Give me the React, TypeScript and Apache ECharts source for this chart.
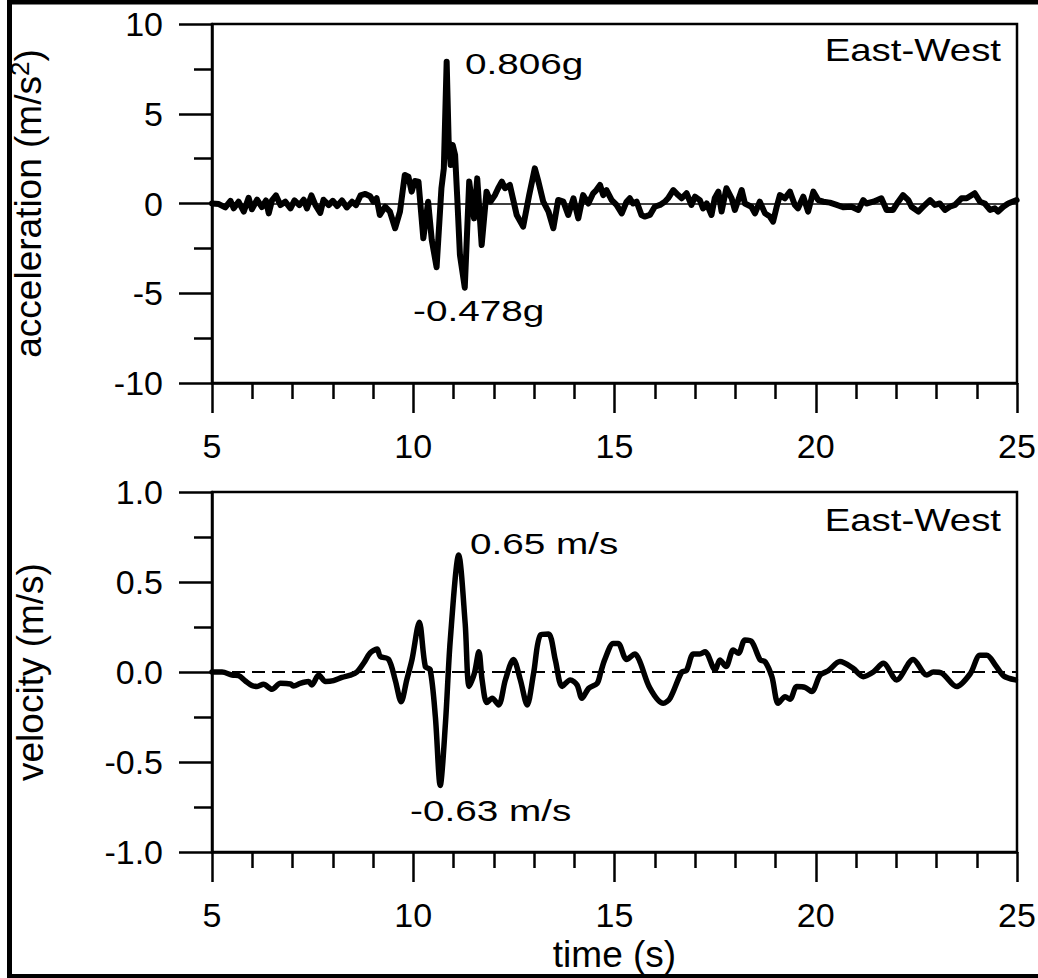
import React, { useEffect, useRef } from 'react';
import * as echarts from 'echarts';

// ---- data ----
const timeTickLabels = [5, 10, 15, 20, 25];

const accTime = [
  5.0, 5.17, 5.33, 5.46, 5.54, 5.66, 5.79, 5.91, 5.99, 6.12, 6.24, 6.34, 6.41, 6.49, 6.59, 6.7, 6.82, 6.95,
  7.05, 7.17, 7.28, 7.36, 7.47, 7.57, 7.69, 7.77, 7.9, 8.0, 8.11, 8.23, 8.35, 8.48, 8.58, 8.69, 8.81, 8.93,
  9.01, 9.09, 9.17, 9.3, 9.42, 9.55, 9.67, 9.79, 9.88, 9.96, 10.04, 10.13, 10.25, 10.37, 10.46, 10.58,
  10.7, 10.76, 10.83, 10.88, 10.93, 10.98, 11.04, 11.09, 11.16, 11.28, 11.39, 11.51, 11.59, 11.7, 11.82,
  11.92, 12.03, 12.11, 12.2, 12.28, 12.4, 12.57, 12.73, 12.88, 13.02, 13.11, 13.23, 13.36, 13.48, 13.6,
  13.73, 13.85, 13.98, 14.1, 14.22, 14.35, 14.47, 14.55, 14.64, 14.72, 14.8, 14.93, 15.05, 15.18, 15.3,
  15.38, 15.46, 15.55, 15.67, 15.75, 15.88, 16.0, 16.13, 16.25, 16.33, 16.46, 16.58, 16.67, 16.79, 16.91,
  17.0, 17.12, 17.2, 17.29, 17.41, 17.49, 17.58, 17.66, 17.78, 17.91, 17.99, 18.16, 18.24, 18.4, 18.49,
  18.61, 18.74, 18.86, 18.94, 19.03, 19.11, 19.23, 19.36, 19.48, 19.56, 19.69, 19.81, 19.94, 20.06, 20.19,
  20.35, 20.52, 20.68, 20.89, 21.06, 21.18, 21.26, 21.43, 21.63, 21.76, 21.92, 22.05, 22.17, 22.3, 22.38,
  22.55, 22.67, 22.84, 22.96, 23.08, 23.21, 23.33, 23.46, 23.62, 23.75, 23.95, 24.08, 24.2, 24.33, 24.45,
  24.53, 24.66, 24.78, 24.99,
];
const accValues = [
  0, -0.03, -0.22, 0.15, -0.27, 0.1, -0.45, 0.32, -0.32, 0.21, -0.2, 0.17, -0.55, 0.17, 0.45, -0.09, 0.1, -0.27,
  0.17, -0.09, 0.21, -0.27, 0.45, -0.09, -0.52, 0.21, -0.09, 0.15, -0.14, 0.17, -0.22, 0.1, -0.09, 0.45, 0.53, 0.4,
  0.1, 0.29, -0.64, -0.18, -0.45, -1.38, -0.45, 1.59, 1.49, 0.66, 1.25, 1.22, -1.94, 0.1, -2.03, -3.55,
  0.85, 1.96, 7.9, 3.44, 2.14, 3.26, 2.7, 0.47, -2.87, -4.69, 1.22, -0.83, 1.4, -2.31, 0.66,
  0.1, 0.47, 0.85, 1.22, 0.85, 1.03, -0.64, -1.29, 0.47, 1.96, 1.22, 0.1, -0.45, -1.38, 0.2,
  0.1, -0.64, 0.29, -0.83, 0.47, 0.0, 0.57, 0.75, 1.03, 0.47, 0.75, 0.19, -0.08, -0.55, 0.1,
  0.29, 0, 0.1, -0.64, -0.73, -0.64, -0.18, -0.08, 0.1, 0.29, 0.75, 0.47, 0.29, 0.57, -0.08,
  0.38, 0.19, -0.27, 0, -0.64, 0.29, 0.66, -0.45, 0.85, 0.29, -0.36, 0.75, 0, -0.18, -0.55,
  0.1, -0.55, -0.73, -1.01, -0.18, 0.47, 0.29, 0.66, -0.08, -0.27, 0.38, -0.45, 0.66, 0.19, 0.1,
  0.05, -0.08, -0.21, -0.18, -0.36, 0.19, 0, 0.1, 0.29, -0.36, -0.36, 0.1, 0.47, 0.19, -0.18,
  -0.45, -0.18, 0.19, -0.08, 0, -0.36, -0.18, -0.08, 0.29, 0.29, 0.57, 0.1, 0, -0.36, -0.27,
  -0.45, -0.18, 0, 0.19,
];

const velTime = [
  5.0, 5.25, 5.5, 5.66, 5.83, 5.99, 6.12, 6.28, 6.49, 6.7, 6.95, 7.03, 7.19, 7.4, 7.48, 7.65, 7.82, 8.02,
  8.23, 8.44, 8.6, 8.77, 8.93, 9.1, 9.18, 9.39, 9.55, 9.7, 9.84, 9.97, 10.15, 10.3, 10.42, 10.55, 10.67,
  10.8, 10.92, 11.13, 11.29, 11.39, 11.52, 11.63, 11.71, 11.83, 11.96, 12.12, 12.29, 12.49, 12.66, 12.83,
  12.99, 13.16, 13.36, 13.53, 13.7, 13.9, 14.07, 14.19, 14.36, 14.57, 14.66, 14.76, 14.97, 15.09, 15.3,
  15.51, 15.63, 15.88, 16.21, 16.38, 16.67, 16.79, 16.96, 17.12, 17.25, 17.5, 17.62, 17.77, 17.95, 18.08,
  18.24, 18.41, 18.62, 18.74, 18.91, 19.07, 19.24, 19.36, 19.53, 19.73, 19.9, 20.11, 20.31, 20.6, 20.93,
  21.18, 21.43, 21.68, 22.01, 22.42, 22.76, 22.92, 23.13, 23.5, 23.84, 24.08, 24.25, 24.46, 24.67, 24.96,
];
const velValues = [
  0, 0, -0.017, -0.02, -0.05, -0.075, -0.08, -0.068, -0.096, -0.063, -0.067, -0.078, -0.063, -0.053, -0.072, -0.017, -0.053, -0.048,
  -0.03, -0.017, 0, 0.05, 0.106, 0.128, 0.087, 0.07, -0.043, -0.165, -0.043, 0.07, 0.277, 0.03, 0.013, -0.25, -0.63,
  -0.285, 0.178, 0.65, 0.27, -0.08, -0.007, 0.113, -0.043, -0.17, -0.146, -0.183, -0.043, 0.07, -0.043, -0.183,
  -0.007, 0.206, 0.211, 0.067, -0.08, -0.044, -0.072, -0.146, -0.09, -0.063, 0.0, 0.07, 0.159, 0.159, 0.07,
  0.1, 0.058, -0.09, -0.174, -0.146, 0, 0.009, 0.1, 0.1, 0.113, 0.011, 0.067, 0.03, 0.122, 0.104,
  0.178, 0.169, 0.067, 0.058, -0.026, -0.174, -0.137, -0.152, -0.081, -0.085, -0.109, -0.017, 0.007, 0.058, 0.02,
  -0.026, 0, 0.048, -0.044, 0.07, -0.017, 0, -0.006, -0.081, -0.009, 0.093, 0.093, 0.039, -0.022, -0.044,
];

const panelTitles = ['East-West', 'East-West'];
const accPeakLabels = ['0.806g', '-0.478g'];
const velPeakLabels = ['0.65 m/s', '-0.63 m/s'];

const FONT = "'Liberation Sans', Arial, Helvetica, sans-serif";
const BLACK = '#000';

function xAxis(gridIndex: number, name: string) {
  return {
    type: 'value',
    gridIndex,
    min: timeTickLabels[0],
    max: timeTickLabels[timeTickLabels.length - 1],
    interval: 5,
    axisLine: { show: true, onZero: false, lineStyle: { color: BLACK, width: 2.5 } },
    axisTick: { show: true, length: 30, lineStyle: { color: BLACK, width: 2.5 } },
    minorTick: { show: true, splitNumber: 5, length: 16, lineStyle: { color: BLACK, width: 2.5 } },
    splitLine: { show: false },
    minorSplitLine: { show: false },
    axisLabel: { color: BLACK, fontSize: 34, fontFamily: FONT, margin: 46, showMinLabel: true, showMaxLabel: true },
    name,
    nameLocation: 'middle',
    nameGap: 84,
    nameTextStyle: { color: BLACK, fontSize: 37, fontFamily: FONT },
  };
}

function yAxis(gridIndex: number, min: number, max: number, interval: number, decimals: number, name: string, rich?: any) {
  return {
    type: 'value',
    gridIndex,
    min,
    max,
    interval,
    axisLine: { show: true, onZero: false, lineStyle: { color: BLACK, width: 2.5 } },
    axisTick: { show: true, length: 33, lineStyle: { color: BLACK, width: 2.5 } },
    minorTick: { show: true, splitNumber: 2, length: 18, lineStyle: { color: BLACK, width: 2.5 } },
    splitLine: { show: false },
    minorSplitLine: { show: false },
    axisLabel: {
      color: BLACK,
      fontSize: 34,
      fontFamily: FONT,
      margin: 49,
      showMinLabel: true,
      showMaxLabel: true,
      formatter: (v: number) => v.toFixed(decimals),
    },
    name,
    nameLocation: 'middle',
    nameGap: 163,
    nameTextStyle: { color: BLACK, fontSize: 37, fontFamily: FONT, rich },
  };
}

function label(text: string, x: number, y: number, align: string, fontSize: number, scaleX: number) {
  return {
    type: 'text',
    x,
    y,
    scaleX,
    z: 50,
    style: {
      text,
      fill: BLACK,
      fontSize,
      fontFamily: FONT,
      textAlign: align,
      align,
      textVerticalAlign: 'middle',
      verticalAlign: 'middle',
    },
  };
}

export default function App() {
  const ref = useRef<HTMLDivElement>(null);

  useEffect(() => {
    if (!ref.current) return;
    const chart = echarts.init(ref.current, null, { renderer: 'svg' });
    const accData = accTime.map((t, i) => [t, accValues[i]]);
    const velData = velTime.map((t, i) => [t, velValues[i]]);

    const option: any = {
      animation: false,
      backgroundColor: '#fff',
      grid: [
        { left: 212, top: 24, width: 805, height: 359, show: true, borderColor: BLACK, borderWidth: 2.5, backgroundColor: 'transparent', containLabel: false, outerBoundsMode: 'none' },
        { left: 212, top: 492, width: 805, height: 360, show: true, borderColor: BLACK, borderWidth: 2.5, backgroundColor: 'transparent', containLabel: false, outerBoundsMode: 'none' },
      ],
      xAxis: [xAxis(0, ''), xAxis(1, 'time (s)')],
      yAxis: [
        yAxis(0, -10, 10, 5, 0, '{a|acceleration (m/s}{b|2}{a|)}', {
          a: { fontSize: 37, fontFamily: FONT, color: BLACK },
          b: { fontSize: 26, fontFamily: FONT, color: BLACK, verticalAlign: 'top', padding: [0, 0, 16, 0] },
        }),
        yAxis(1, -1, 1, 0.5, 1, 'velocity (m/s)'),
      ],
      series: [
        {
          type: 'line',
          xAxisIndex: 0,
          yAxisIndex: 0,
          data: accData,
          showSymbol: false,
          symbol: 'none',
          lineStyle: { color: BLACK, width: 6, join: 'round', cap: 'round' },
          z: 5,
          markLine: {
            silent: true,
            symbol: 'none',
            label: { show: false },
            lineStyle: { color: BLACK, width: 1.5, type: 'solid' },
            data: [{ yAxis: 0 }],
          },
        },
        {
          type: 'line',
          xAxisIndex: 1,
          yAxisIndex: 1,
          data: velData,
          showSymbol: false,
          symbol: 'none',
          smooth: 0.3,
          lineStyle: { color: BLACK, width: 5.5, join: 'round', cap: 'round' },
          z: 5,
          markLine: {
            silent: true,
            symbol: 'none',
            label: { show: false },
            lineStyle: { color: BLACK, width: 2, type: [13, 7] },
            data: [{ yAxis: 0 }],
          },
        },
      ],
      graphic: [
        {
          type: 'rect',
          z: 60,
          shape: { x: 9.5, y: 2, width: 1100, height: 974.5 },
          style: { fill: 'none', stroke: BLACK, lineWidth: 5 },
        },
        label(panelTitles[0], 1001, 50, 'right', 32, 1.2),
        label(panelTitles[1], 1001, 520, 'right', 32, 1.2),
        label(accPeakLabels[0], 465, 64, 'left', 30, 1.29),
        label(accPeakLabels[1], 413, 311, 'left', 30, 1.29),
        label(velPeakLabels[0], 470, 544, 'left', 30, 1.29),
        label(velPeakLabels[1], 410, 811, 'left', 30, 1.29),
      ],
    };

    chart.setOption(option);
    return () => chart.dispose();
  }, []);

  return (
    <div
      ref={ref}
      style={{ position: 'absolute', left: 0, top: 0, width: 1038, height: 978, background: '#fff' }}
    />
  );
}
